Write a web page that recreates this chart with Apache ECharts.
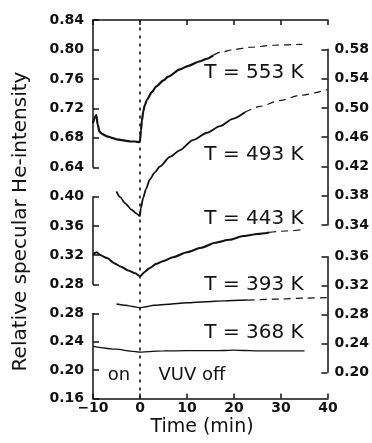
<!DOCTYPE html>
<html><head><meta charset="utf-8">
<script src="https://cdn.jsdelivr.net/npm/echarts@6/dist/echarts.min.js"></script>
<style>html,body{margin:0;padding:0;background:#fff}#c{width:372px;height:443px}</style>
</head><body><div id="c"></div>
<script>
// ---- tick labels ----
const timeTicks = [-10, 0, 10, 20, 30, 40];
const leftTicks1 = [0.64, 0.68, 0.72, 0.76, 0.80, 0.84];
const leftTicks2 = [0.28, 0.32, 0.36, 0.40];
const leftTicks3 = [0.16, 0.20, 0.24, 0.28];
const rightTicksA = [0.34, 0.38, 0.42, 0.46, 0.50, 0.54, 0.58];
const rightTicksB = [0.20, 0.24, 0.28, 0.32, 0.36];

// ---- T = 553 K (left axis, upper segment) ----
const t553 = [-10, -9.6, -9.3, -9.0, -8.6, -8.0, -7.0, -6.0, -5.0, -4.0, -3.0, -2.0, -1.0, -0.2, 0, 0.2, 0.4, 0.7, 1.0, 1.5, 2.5, 3.5, 5, 6, 8.5, 10, 12.8, 14, 15.6];
const v553 = [0.700, 0.708, 0.711, 0.698, 0.688, 0.685, 0.682, 0.680, 0.678, 0.677, 0.676, 0.675, 0.675, 0.674, 0.676, 0.690, 0.703, 0.716, 0.724, 0.732, 0.742, 0.750, 0.758, 0.763, 0.773, 0.777, 0.784, 0.787, 0.792];
const t553ext = [15.6, 17, 20, 23.5, 29, 34.5];
const v553ext = [0.792, 0.796, 0.800, 0.803, 0.806, 0.807];

// ---- T = 493 K (right axis, upper segment) ----
const t493 = [-5.0, -4.2, -3.2, -1.8, -0.8, 0, 0.2, 0.7, 1.3, 2.1, 3.2, 4.3, 6.4, 8.5, 11.3, 14.3, 17.1, 19.8, 22.4];
const v493 = [0.386, 0.378, 0.370, 0.361, 0.356, 0.352, 0.363, 0.377, 0.389, 0.402, 0.412, 0.420, 0.433, 0.442, 0.456, 0.466, 0.475, 0.485, 0.494];
const t493ext = [22.4, 25.6, 29.9, 34.1, 40];
const v493ext = [0.494, 0.502, 0.510, 0.517, 0.525];

// ---- T = 443 K (left axis, middle segment) ----
const t443 = [-10, -9.2, -8.5, -7, -5.5, -4, -2.5, -1, 0, 1, 2, 3.5, 5, 7, 10, 13, 16, 19, 22, 25, 27.5];
const v443 = [0.321, 0.324, 0.320, 0.316, 0.309, 0.304, 0.299, 0.295, 0.291, 0.297, 0.302, 0.308, 0.312, 0.317, 0.324, 0.330, 0.337, 0.341, 0.346, 0.349, 0.351];
const t443ext = [27.5, 31, 35];
const v443ext = [0.351, 0.353, 0.355];

// ---- T = 393 K (right axis, lower segment) ----
const t393 = [-5, -3, -1.5, 0, 1, 3, 6, 10, 14, 18, 23];
const v393 = [0.2945, 0.2927, 0.2911, 0.2894, 0.2904, 0.2927, 0.2942, 0.2962, 0.2977, 0.2989, 0.3000];
const t393ext = [23, 30, 35, 40];
const v393ext = [0.3000, 0.3014, 0.3026, 0.3035];

// ---- T = 368 K (left axis, lower segment) ----
const t368 = [-10, -5, -2, 0, 2, 5, 10, 15, 18, 20, 22, 25, 30, 35];
const v368 = [0.2336, 0.2296, 0.2270, 0.2256, 0.2263, 0.2272, 0.2275, 0.2275, 0.2278, 0.2282, 0.2278, 0.2272, 0.2272, 0.2272];

const curveLabels = ['T = 553 K', 'T = 493 K', 'T = 443 K', 'T = 393 K', 'T = 368 K'];
const lightLabels = ['on', 'VUV off'];
const yTitle = 'Relative specular He-intensity';
const xTitle = 'Time (min)';

const zip = (a, b) => a.map((x, i) => [x, b[i]]);
const INK = '#111';
const tickFont = { color: INK, fontFamily: 'DejaVu Sans', fontWeight: 'bold', fontSize: 14 };
const axisLineStyle = { color: INK, width: 1.5 };

// segments: [position, top, height, ticks]
const segs = [
  ['left', 20, 147.3, leftTicks1],
  ['left', 196.7, 87.6, leftTicks2],
  ['left', 313.5, 85, leftTicks3],
  ['right', 49.3, 175.7, rightTicksA],
  ['right', 256.7, 115.6, rightTicksB]
];

const grids = [{ left: 93, right: 44, top: 20, bottom: 44.5 }];
const xAxes = [
  { gridIndex: 0, type: 'value', position: 'bottom', min: timeTicks[0], max: timeTicks[timeTicks.length - 1], interval: 10,
    axisLine: { onZero: false, lineStyle: axisLineStyle },
    axisTick: { inside: true, length: 5, lineStyle: axisLineStyle },
    axisLabel: Object.assign({ margin: 3, formatter: v => (v < 0 ? '\u2212' + Math.abs(v) : String(v)) }, tickFont),
    splitLine: { show: false } },
  { gridIndex: 0, type: 'value', position: 'top', min: timeTicks[0], max: timeTicks[timeTicks.length - 1], interval: 10,
    axisLine: { onZero: false, lineStyle: axisLineStyle },
    axisTick: { inside: true, length: 5, lineStyle: axisLineStyle },
    axisLabel: { show: false }, splitLine: { show: false } }
];
const yAxes = [{ gridIndex: 0, type: 'value', min: 0, max: 1, show: false }];
segs.forEach((s, i) => {
  const [pos, top, h, ticks] = s;
  grids.push({ left: 93, right: 44, top: top, height: h });
  xAxes.push({ gridIndex: i + 1, type: 'value', min: -10, max: 40, show: false });
  yAxes.push({
    gridIndex: i + 1, type: 'value', position: pos,
    min: ticks[0], max: ticks[ticks.length - 1],
    axisLine: { show: true, onZero: false, lineStyle: axisLineStyle },
    axisTick: { show: true, inside: true, length: 6, lineStyle: axisLineStyle, customValues: ticks },
    axisLabel: Object.assign({ margin: pos === 'left' ? 9 : 7, customValues: ticks, formatter: v => v.toFixed(2) }, tickFont),
    splitLine: { show: false }
  });
});

function curve(data, axisIdx, width, dashed) {
  return {
    type: 'line', xAxisIndex: axisIdx + 1, yAxisIndex: axisIdx, data: data,
    showSymbol: false, symbol: 'none', clip: false, smooth: 0.25, smoothMonotone: 'x',
    lineStyle: { color: INK, width: width, type: dashed ? [7, 5] : 'solid' },
    silent: true
  };
}

const series = [
  { type: 'line', xAxisIndex: 0, yAxisIndex: 0, data: [],
    markLine: { silent: true, symbol: ['none', 'none'], label: { show: false },
      lineStyle: { color: INK, type: [3, 5], width: 1.6 }, data: [{ xAxis: 0 }] } },
  curve(zip(t553, v553), 1, 2.2, false),
  curve(zip(t553ext, v553ext), 1, 1.2, true),
  curve(zip(t493, v493), 4, 1.8, false),
  curve(zip(t493ext, v493ext), 4, 1.2, true),
  curve(zip(t443, v443), 2, 2.0, false),
  curve(zip(t443ext, v443ext), 2, 1.2, true),
  curve(zip(t393, v393), 5, 1.4, false),
  curve(zip(t393ext, v393ext), 5, 1.2, true),
  curve(zip(t368, v368), 3, 1.3, false)
];

const labelY = [72.3, 155, 218.3, 285, 332.7];
const graphics = curveLabels.map((t, i) => ({
  type: 'text', x: 254, y: labelY[i], silent: true,
  style: { text: t, fill: INK, font: '20px "DejaVu Sans"', align: 'center', verticalAlign: 'middle' }
}));
graphics.push({ type: 'text', x: 119, y: 375, silent: true,
  style: { text: lightLabels[0], fill: INK, font: '18px "DejaVu Sans"', align: 'center', verticalAlign: 'middle' } });
graphics.push({ type: 'text', x: 192, y: 375, silent: true,
  style: { text: lightLabels[1], fill: INK, font: '18px "DejaVu Sans"', align: 'center', verticalAlign: 'middle' } });
graphics.push({ type: 'text', x: 202, y: 427, silent: true,
  style: { text: xTitle, fill: INK, font: '19px "DejaVu Sans"', align: 'center', verticalAlign: 'middle' } });
graphics.push({ type: 'text', x: 21, y: 221.5, rotation: Math.PI / 2, silent: true,
  style: { text: yTitle, fill: INK, font: '20px "DejaVu Sans"', align: 'center', verticalAlign: 'middle' } });

const chart = echarts.init(document.getElementById('c'), null, { renderer: 'canvas' });
chart.setOption({
  animation: false,
  backgroundColor: '#fff',
  grid: grids, xAxis: xAxes, yAxis: yAxes, series: series, graphic: graphics
});
</script></body></html>
